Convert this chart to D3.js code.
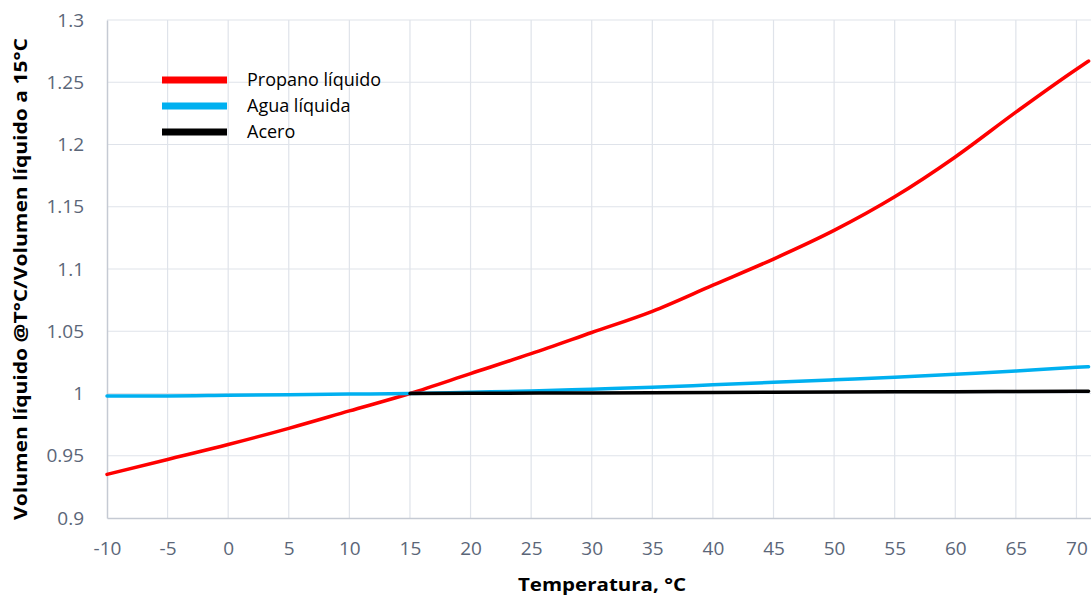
<!DOCTYPE html>
<html>
<head>
<meta charset="utf-8">
<script src="https://cdn.jsdelivr.net/npm/d3@7"></script>
<style>
  body { margin: 0; background: #fff; }
  svg { display: block; }
</style>
</head>
<body>
<svg id="chart" width="1091" height="599"></svg>
<script>
// temperatures, °C
const temps = [-10, -5, 0, 5, 10, 15, 20, 25, 30, 35, 40, 45, 50, 55, 60, 65, 70, 71]
// volume ratio vs 15°C
const propano = [0.935, 0.947, 0.959, 0.972, 0.986, 1.000, 1.016, 1.032, 1.049, 1.066, 1.087, 1.108, 1.131, 1.158, 1.190, 1.226, 1.2605, 1.267]
const agua = [0.998, 0.998, 0.9985, 0.999, 0.9995, 1.000, 1.001, 1.002, 1.0035, 1.005, 1.007, 1.009, 1.011, 1.013, 1.0155, 1.018, 1.021, 1.0215]
const aceroTemps = [15, 20, 30, 40, 50, 60, 70, 71]
const acero = [1.000, 1.0002, 1.0005, 1.0009, 1.0012, 1.0015, 1.0018, 1.0018]

const xTicks = d3.range(-10, 71, 5)
const yTicks = [0.9, 0.95, 1, 1.05, 1.1, 1.15, 1.2, 1.25, 1.3]

const series = [
  {name: "Propano líquido", color: "#ff0000", xs: temps, ys: propano},
  {name: "Agua líquida", color: "#00b0f0", xs: temps, ys: agua},
  {name: "Acero", color: "#000000", xs: aceroTemps, ys: acero}
]

const margin = {left: 107, top: 20, right: 0, bottom: 81}
const W = 1091, H = 599

const x = d3.scaleLinear().domain([-10, 71.2]).range([margin.left, W - margin.right])
const y = d3.scaleLinear().domain([0.9, 1.3]).range([H - margin.bottom, margin.top])

const svg = d3.select("#chart")
const font = "'Open Sans', 'Noto Sans', sans-serif"

// grid
svg.append("g").selectAll("line.gx")
  .data(xTicks.slice(1))
  .join("line")
  .attr("x1", d => x(d)).attr("x2", d => x(d))
  .attr("y1", y(1.3)).attr("y2", y(0.9))
  .attr("stroke", "#dfe3ea").attr("stroke-width", 1.2)

svg.append("g").selectAll("line.gy")
  .data(yTicks.slice(1))
  .join("line")
  .attr("x1", x(-10)).attr("x2", W)
  .attr("y1", d => y(d)).attr("y2", d => y(d))
  .attr("stroke", "#dfe3ea").attr("stroke-width", 1.2)

// axes
const xAxis = svg.append("g")
  .attr("transform", `translate(0,${y(0.9)})`)
  .call(d3.axisBottom(x).tickValues(xTicks).tickSize(0).tickPadding(24).tickFormat(d => String(d)))
const yAxis = svg.append("g")
  .attr("transform", `translate(${x(-10)},0)`)
  .call(d3.axisLeft(y).tickValues(yTicks).tickSize(0).tickPadding(23).tickFormat(d => String(+d.toFixed(2))))

for (const ax of [xAxis, yAxis]) {
  ax.select(".domain").attr("stroke", "#c5cad3").attr("stroke-width", 1.5)
  ax.selectAll("text").attr("fill", "#5b6678").style("font-family", font).style("font-size", "19px")
}

// lines
const line = d3.line().x(d => x(d[0])).y(d => y(d[1])).curve(d3.curveMonotoneX)
series.forEach(s => {
  svg.append("path")
    .datum(s.xs.map((t, i) => [t, s.ys[i]]))
    .attr("d", line)
    .attr("fill", "none")
    .attr("stroke", s.color)
    .attr("stroke-width", 3.5)
    .attr("stroke-linecap", "round")
})

// legend
const leg = svg.append("g").attr("transform", "translate(162,80)")
leg.selectAll("line")
  .data(series)
  .join("line")
  .attr("x1", 0).attr("x2", 65)
  .attr("y1", (d, i) => i * 26).attr("y2", (d, i) => i * 26)
  .attr("stroke", d => d.color).attr("stroke-width", 7)
leg.selectAll("text")
  .data(series)
  .join("text")
  .attr("x", 85).attr("y", (d, i) => i * 26)
  .attr("dy", "0.35em")
  .style("font-family", font).style("font-size", "18px")
  .attr("fill", "#000")
  .text(d => d.name)

// axis titles
svg.append("text")
  .attr("x", 602).attr("y", 591)
  .attr("text-anchor", "middle")
  .style("font-family", font).style("font-size", "18px").style("font-weight", "bold")
  .attr("textLength", 168).attr("lengthAdjust", "spacingAndGlyphs")
  .text("Temperatura, °C")

svg.append("text")
  .attr("transform", "translate(27,279) rotate(-90)")
  .attr("text-anchor", "middle")
  .attr("textLength", 482).attr("lengthAdjust", "spacingAndGlyphs")
  .style("font-family", font).style("font-size", "18px").style("font-weight", "bold")
  .text("Volumen líquido @T°C/Volumen líquido a 15°C")
</script>
</body>
</html>
